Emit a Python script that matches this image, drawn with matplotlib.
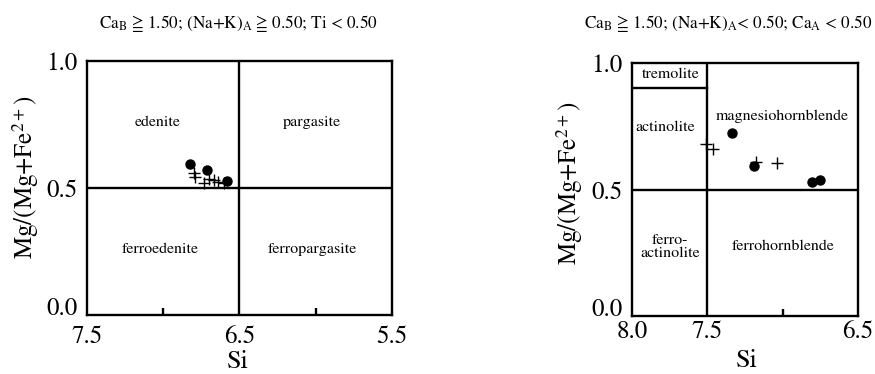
import matplotlib
matplotlib.use('Agg')
import matplotlib.pyplot as plt

plt.rcParams['font.family'] = ['STIXGeneral', 'DejaVu Serif']
plt.rcParams['mathtext.fontset'] = 'stix'

# Left diagram: edenite / pargasite field
left_dot_si = [6.825, 6.71, 6.585]
left_dot_mg = [0.594, 0.571, 0.529]
left_cross_si = [6.80, 6.79, 6.73, 6.70, 6.67, 6.64, 6.60]
left_cross_mg = [0.560, 0.545, 0.520, 0.535, 0.530, 0.525, 0.520]

# Right diagram: tremolite / hornblende field
right_dot_si = [7.336, 7.19, 6.807, 6.752]
right_dot_mg = [0.722, 0.594, 0.528, 0.536]
right_cross_si = [7.507, 7.465, 7.175, 7.04]
right_cross_mg = [0.680, 0.660, 0.607, 0.603]

left_names = ['edenite', 'pargasite', 'ferroedenite', 'ferropargasite']
left_name_x = [7.035, 6.025, 7.02, 6.025]
left_name_y = [0.76, 0.76, 0.26, 0.26]

right_names = ['tremolite', 'actinolite', 'magnesiohornblende', 'ferro-\nactinolite', 'ferrohornblende']
right_name_x = [7.745, 7.78, 7.005, 7.745, 6.997]
right_name_y = [0.957, 0.744, 0.79, 0.274, 0.274]

fig = plt.figure(figsize=(8.75, 3.74), dpi=100)
ax1 = fig.add_axes([0.0994, 0.158, 0.3486, 0.679])
ax2 = fig.add_axes([0.7223, 0.155, 0.2583, 0.6766])

lw = 1.7

def style(ax, xlim, major, minor, xpad):
    ax.set_xlim(*xlim)
    ax.set_ylim(0, 1)
    ax.set_xticks(major)
    ax.set_xticklabels([f'{v:.1f}' for v in major])
    ax.set_xticks(minor, minor=True)
    ax.set_yticks([0, 0.5, 1.0])
    ax.set_yticklabels(['0.0', '0.5', '1.0'])
    ax.get_yticklabels()[0].set_va('baseline')
    ax.tick_params(axis='both', which='major', length=0, labelsize=18, pad=7)
    ax.tick_params(axis='x', which='major', pad=xpad)
    ax.tick_params(axis='x', which='minor', direction='in', length=5, width=lw)
    for s in ax.spines.values():
        s.set_linewidth(lw)

# left
style(ax1, (7.5, 5.5), [7.5, 6.5, 5.5], [7.0, 6.0], 7)
ax1.axvline(6.5, color='k', lw=lw)
ax1.axhline(0.5, color='k', lw=lw)
ax1.plot(left_cross_si, left_cross_mg, '+', color='k', ms=9, mew=1)
ax1.plot(left_dot_si, left_dot_mg, 'o', color='k', ms=6.5)
for t, x, y in zip(left_names, left_name_x, left_name_y):
    ax1.text(x, y, t, ha='center', va='center', fontsize=11.5)

# right
style(ax2, (8.0, 6.5), [8.0, 7.5, 6.5], [7.0], 3)
ax2.axvline(7.5, color='k', lw=lw)
ax2.axhline(0.5, color='k', lw=lw)
ax2.plot([8.0, 7.5], [0.9, 0.9], color='k', lw=lw)
ax2.plot(right_cross_si, right_cross_mg, '+', color='k', ms=9, mew=1)
ax2.plot(right_dot_si, right_dot_mg, 'o', color='k', ms=6.5)
for t, x, y in zip(right_names, right_name_x, right_name_y):
    ax2.text(x, y, t, ha='center', va='center', fontsize=11.5, linespacing=1.0)

# titles and labels
fig.text(0.272, 0.938, r'Ca$_\mathregular{B}$ ≧ 1.50; (Na+K)$_\mathregular{A}$ ≧ 0.50; Ti < 0.50',
         ha='center', va='center', fontsize=12.3)
fig.text(0.832, 0.938, r'Ca$_\mathregular{B}$ ≧ 1.50; (Na+K)$_\mathregular{A}$< 0.50; Ca$_\mathregular{A}$ < 0.50',
         ha='center', va='center', fontsize=12.3)

ylab = r'Mg/(Mg+Fe$^{2+}$)'
fig.text(0.029, 0.525, ylab, rotation=90, ha='center', va='center', fontsize=18)
fig.text(0.651, 0.51, ylab, rotation=90, ha='center', va='center', fontsize=18)
fig.text(0.272, 0.032, 'Si', ha='center', va='center', fontsize=19)
fig.text(0.853, 0.035, 'Si', ha='center', va='center', fontsize=19)

fig.savefig('out.png', dpi=100)
